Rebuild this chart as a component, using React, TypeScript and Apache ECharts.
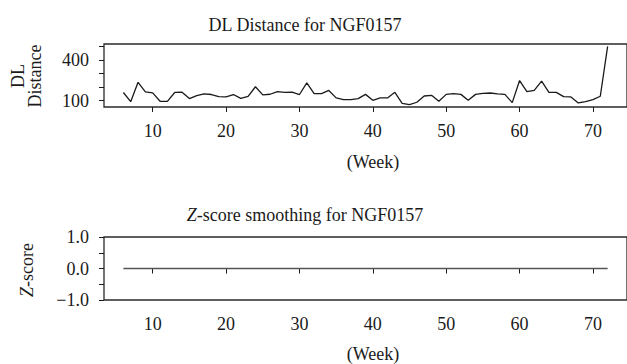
import React, { useEffect, useRef } from "react";
import * as echarts from "echarts";

const weeks = [6, 7, 8, 9, 10, 11, 12, 13, 14, 15, 16, 17, 18, 19, 20, 21, 22, 23, 24, 25, 26, 27, 28, 29, 30, 31, 32, 33, 34, 35, 36, 37, 38, 39, 40, 41, 42, 43, 44, 45, 46, 47, 48, 49, 50, 51, 52, 53, 54, 55, 56, 57, 58, 59, 60, 61, 62, 63, 64, 65, 66, 67, 68, 69, 70, 71, 72];
const dlDistance = [160, 92, 235, 165, 157, 95, 95, 160, 162, 115, 137, 150, 145, 130, 127, 145, 117, 132, 202, 142, 147, 167, 160, 162, 145, 230, 152, 152, 175, 120, 107, 107, 115, 146, 102, 120, 120, 161, 80, 70, 88, 134, 139, 95, 146, 151, 146, 102, 146, 154, 156, 149, 146, 85, 248, 166, 176, 244, 161, 161, 129, 127, 83, 93, 107, 132, 500];
const zScore = [0, 0, 0, 0, 0, 0, 0, 0, 0, 0, 0, 0, 0, 0, 0, 0, 0, 0, 0, 0, 0, 0, 0, 0, 0, 0, 0, 0, 0, 0, 0, 0, 0, 0, 0, 0, 0, 0, 0, 0, 0, 0, 0, 0, 0, 0, 0, 0, 0, 0, 0, 0, 0, 0, 0, 0, 0, 0, 0, 0, 0, 0, 0, 0, 0, 0, 0];
const xTicks = [10, 20, 30, 40, 50, 60, 70];
const dlTicks = [100, 200, 300, 400, 500];
const dlLabels = [100, 400];
const zTicks = [-1, -0.5, 0, 0.5, 1];
const zLabels = [-1, 0, 1];

const FONT = "Liberation Serif";
const INK = "#1a1a1a";

export default function App() {
  const ref = useRef<HTMLDivElement>(null);
  useEffect(() => {
    if (!ref.current) return;
    const chart = echarts.init(ref.current, null, { renderer: "svg" });
    const xAxisBase = (gridIndex: number) => ({
      type: "value",
      gridIndex,
      min: 3.36,
      max: 74.64,
      splitLine: { show: false },
      axisLine: { show: false },
      axisTick: { show: true, inside: false, length: 5, customValues: xTicks, lineStyle: { color: INK, width: 1 } },
      axisLabel: { customValues: xTicks, margin: 15, fontFamily: FONT, fontSize: 18, color: INK },
    });
    const option: any = {
      animation: false,
      grid: [
        { left: 104, top: 44, width: 524, height: 63, show: true, borderColor: "#2a2a2a", borderWidth: 1.3, backgroundColor: "transparent" },
        { left: 104, top: 237, width: 524, height: 63, show: true, borderColor: "#2a2a2a", borderWidth: 1.3, backgroundColor: "transparent" },
      ],
      xAxis: [xAxisBase(0), xAxisBase(1)],
      yAxis: [
        {
          type: "value",
          gridIndex: 0,
          min: 53,
          max: 517,
          splitLine: { show: false },
          axisLine: { show: false },
          axisTick: { show: true, inside: false, length: 5, customValues: dlTicks, lineStyle: { color: INK, width: 1 } },
          axisLabel: { customValues: dlLabels, margin: 15, fontFamily: FONT, fontSize: 18, color: INK, formatter: (v: number) => String(v) },
        },
        {
          type: "value",
          gridIndex: 1,
          min: -1,
          max: 1,
          splitLine: { show: false },
          axisLine: { show: false },
          axisTick: { show: true, inside: false, length: 5, customValues: zTicks, lineStyle: { color: INK, width: 1 } },
          axisLabel: {
            customValues: zLabels,
            margin: 15,
            fontFamily: FONT,
            fontSize: 18,
            color: INK,
            formatter: (v: number) => (v < 0 ? "\u2212" + Math.abs(v).toFixed(1) : v.toFixed(1)),
          },
        },
      ],
      series: [
        {
          type: "line",
          xAxisIndex: 0,
          yAxisIndex: 0,
          data: weeks.map((w, i) => [w, dlDistance[i]]),
          showSymbol: false,
          lineStyle: { color: INK, width: 1.3 },
        },
        {
          type: "line",
          xAxisIndex: 1,
          yAxisIndex: 1,
          data: weeks.map((w, i) => [w, zScore[i]]),
          showSymbol: false,
          lineStyle: { color: "#555", width: 1.5 },
        },
      ],
      graphic: [
        { type: "text", x: 305, y: 25, style: { text: "DL Distance for NGF0157", fontFamily: FONT, fontSize: 18, fill: INK, textAlign: "center", textVerticalAlign: "middle" } },
        {
          type: "text",
          x: 305,
          y: 215,
          style: {
            text: "{i|Z}-score smoothing for NGF0157",
            fontFamily: FONT,
            fontSize: 18,
            fill: INK,
            textAlign: "center",
            textVerticalAlign: "middle",
            rich: { i: { fontStyle: "italic", fontFamily: FONT, fontSize: 18, fill: INK } },
          },
        },
        { type: "text", x: 373, y: 162, style: { text: "(Week)", fontFamily: FONT, fontSize: 18, fill: INK, textAlign: "center", textVerticalAlign: "middle" } },
        { type: "text", x: 373, y: 354, style: { text: "(Week)", fontFamily: FONT, fontSize: 18, fill: INK, textAlign: "center", textVerticalAlign: "middle" } },
        { type: "text", x: 18, y: 76, rotation: Math.PI / 2, style: { text: "DL", fontFamily: FONT, fontSize: 18, fill: INK, textAlign: "center", textVerticalAlign: "middle" } },
        { type: "text", x: 35, y: 76, rotation: Math.PI / 2, style: { text: "Distance", fontFamily: FONT, fontSize: 18, fill: INK, textAlign: "center", textVerticalAlign: "middle" } },
        {
          type: "text",
          x: 27,
          y: 270,
          rotation: Math.PI / 2,
          style: {
            text: "{i|Z}-score",
            fontFamily: FONT,
            fontSize: 18,
            fill: INK,
            textAlign: "center",
            textVerticalAlign: "middle",
            rich: { i: { fontStyle: "italic", fontFamily: FONT, fontSize: 18, fill: INK } },
          },
        },
      ],
    };
    chart.setOption(option);
    return () => chart.dispose();
  }, []);
  return <div ref={ref} style={{ position: "absolute", left: 0, top: 0, width: 627, height: 364, background: "#fff" }} />;
}
